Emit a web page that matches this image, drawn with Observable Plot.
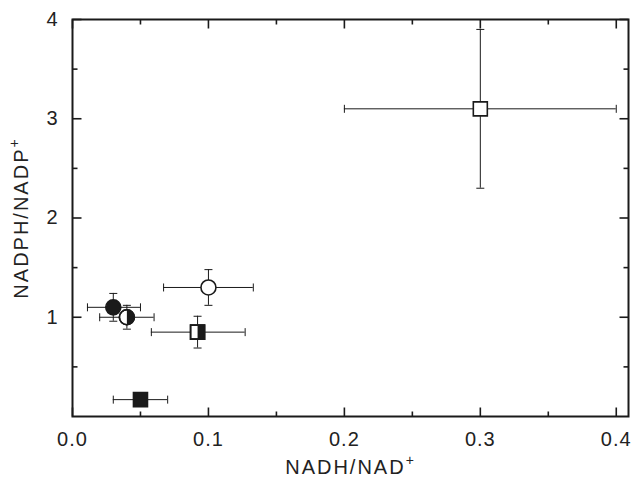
<!DOCTYPE html>
<html>
<head>
<meta charset="utf-8">
<script src="https://cdn.jsdelivr.net/npm/d3@7"></script>
<script src="https://cdn.jsdelivr.net/npm/@observablehq/plot@0.6"></script>
<style>
  html, body { margin: 0; padding: 0; background: #fff; }
  #chart svg { display: block; }
</style>
</head>
<body>
<div id="chart"></div>
<script>
// ---- data ----
const shapes = ["square", "circle", "square", "square", "circle", "circle"];
const fills  = ["open",   "open",   "half",   "filled", "filled", "half"];
const xMean  = [0.300, 0.100, 0.092, 0.050, 0.030, 0.040];
const yMean  = [3.10,  1.30,  0.85,  0.17,  1.10,  1.00];
const xLow   = [0.200, 0.067, 0.058, 0.030, 0.011, 0.020];
const xHigh  = [0.400, 0.133, 0.127, 0.070, 0.050, 0.060];
const yLow   = [2.30,  1.12,  0.69,  0.17,  0.96,  0.88];
const yHigh  = [3.90,  1.48,  1.01,  0.17,  1.24,  1.12];

const xMajor = [0.0, 0.1, 0.2, 0.3, 0.4];
const xMinor = [0.05, 0.15, 0.25, 0.35];
const yMajor = [1, 2, 3, 4];
const yMinor = [0.5, 1.5, 2.5, 3.5];
const xTitle = "NADH/NAD+";
const yTitle = "NADPH/NADP+";

const points = shapes.map((s, i) => ({
  shape: s, fill: fills[i], x: xMean[i], y: yMean[i],
  xl: xLow[i], xh: xHigh[i], yl: yLow[i], yh: yHigh[i]
}));

// ---- custom symbols ----
const symCircle = {draw(c, size) { const r = Math.sqrt(size / Math.PI); c.moveTo(r, 0); c.arc(0, 0, r, 0, 2 * Math.PI); c.closePath(); }};
const symCircleRight = {draw(c, size) { const r = Math.sqrt(size / Math.PI); c.moveTo(0, -r); c.arc(0, 0, r, -Math.PI / 2, Math.PI / 2); c.closePath(); }};
const symSquare = {draw(c, size) { const w = Math.sqrt(size / Math.PI); c.moveTo(-w, -w); c.lineTo(w, -w); c.lineTo(w, w); c.lineTo(-w, w); c.closePath(); }};
const symSquareRight = {draw(c, size) { const w = Math.sqrt(size / Math.PI); c.moveTo(0, -w); c.lineTo(w, -w); c.lineTo(w, w); c.lineTo(0, w); c.closePath(); }};
const capV = {draw(c) { c.moveTo(0, -4); c.lineTo(0, 4); }};
const capH = {draw(c) { c.moveTo(-4, 0); c.lineTo(4, 0); }};
const tickSym = (len, dir) => ({draw(c) {
  c.moveTo(0, 0);
  if (dir === "up") c.lineTo(0, -len);
  else if (dir === "down") c.lineTo(0, len);
  else if (dir === "right") c.lineTo(len, 0);
  else c.lineTo(-len, 0);
}});

const ink = "#1a1a1a";
const circR = 7.5;   // radius px
const sqHalf = 7;    // half side px

function markerMarks(p) {
  const full = p.shape === "circle" ? symCircle : symSquare;
  const half = p.shape === "circle" ? symCircleRight : symSquareRight;
  const r = p.shape === "circle" ? circR : sqHalf;
  const base = {x: "x", y: "y", r, strokeWidth: 1.6};
  const out = [];
  out.push(Plot.dot([p], {...base, symbol: full, fill: p.fill === "filled" ? ink : "white", stroke: ink}));
  if (p.fill === "half") {
    out.push(Plot.dot([p], {...base, symbol: half, fill: ink, stroke: "none"}));
    out.push(Plot.dot([p], {...base, symbol: full, fill: "none", stroke: ink}));
  }
  return out;
}

const withYErr = points.filter(p => p.yh > p.yl);

const chart = Plot.plot({
  width: 631,
  height: 477,
  marginLeft: 72,
  marginRight: 3,
  marginTop: 19,
  marginBottom: 61,
  x: {domain: [0, 0.409], axis: null},
  y: {domain: [0, 4], axis: null},
  style: {fontFamily: "'Liberation Sans', Arial, sans-serif", color: ink, background: "white"},
  marks: [
    // error bars
    Plot.ruleY(points, {y: "y", x1: "xl", x2: "xh", stroke: ink, strokeWidth: 1}),
    Plot.ruleX(withYErr, {x: "x", y1: "yl", y2: "yh", stroke: ink, strokeWidth: 1}),
    Plot.dot(points, {x: "xl", y: "y", symbol: capV, stroke: ink, strokeWidth: 1}),
    Plot.dot(points, {x: "xh", y: "y", symbol: capV, stroke: ink, strokeWidth: 1}),
    Plot.dot(withYErr, {x: "x", y: "yl", symbol: capH, stroke: ink, strokeWidth: 1}),
    Plot.dot(withYErr, {x: "x", y: "yh", symbol: capH, stroke: ink, strokeWidth: 1}),
    // markers
    ...points.flatMap(markerMarks),
    // inward ticks on all four sides
    Plot.dot(xMajor, {x: d => d, frameAnchor: "bottom", symbol: tickSym(9, "up"), stroke: ink, strokeWidth: 1.6}),
    Plot.dot(xMinor, {x: d => d, frameAnchor: "bottom", symbol: tickSym(5, "up"), stroke: ink, strokeWidth: 1.6}),
    Plot.dot(xMajor, {x: d => d, frameAnchor: "top", symbol: tickSym(9, "down"), stroke: ink, strokeWidth: 1.6}),
    Plot.dot(xMinor, {x: d => d, frameAnchor: "top", symbol: tickSym(5, "down"), stroke: ink, strokeWidth: 1.6}),
    Plot.dot(yMajor, {y: d => d, frameAnchor: "left", symbol: tickSym(9, "right"), stroke: ink, strokeWidth: 1.6}),
    Plot.dot(yMinor, {y: d => d, frameAnchor: "left", symbol: tickSym(5, "right"), stroke: ink, strokeWidth: 1.6}),
    Plot.dot(yMajor, {y: d => d, frameAnchor: "right", symbol: tickSym(9, "left"), stroke: ink, strokeWidth: 1.6}),
    Plot.dot(yMinor, {y: d => d, frameAnchor: "right", symbol: tickSym(5, "left"), stroke: ink, strokeWidth: 1.6}),
    Plot.frame({stroke: ink, strokeWidth: 2}),
    // tick labels
    Plot.axisX(xMajor, {anchor: "bottom", tickSize: 0, tickPadding: 15, tickFormat: d3.format(".1f"), label: null, fontSize: 20, fill: "#222"}),
    Plot.axisY(yMajor, {anchor: "left", tickSize: 0, tickPadding: 14, tickFormat: d3.format("d"), label: null, fontSize: 20, fill: "#222"}),
    // axis titles
    Plot.text([xTitle], {text: d => d, frameAnchor: "bottom", dy: 51, fontSize: 20, fill: "#222", lineAnchor: "middle", textAnchor: "middle"}),
    Plot.text([yTitle], {text: d => d, frameAnchor: "left", dx: -51, rotate: -90, fontSize: 20, fill: "#222", lineAnchor: "middle", textAnchor: "middle"})
  ]
});

// superscript "+" in axis titles
d3.select(chart).selectAll("text").filter(function() {
  return this.textContent === xTitle || this.textContent === yTitle;
}).each(function() {
  const t = d3.select(this);
  const s = this.textContent;
  t.text("").attr("letter-spacing", "2px");
  t.append("tspan").text(s.slice(0, -1));
  t.append("tspan").attr("dy", "-0.65em").attr("font-size", "0.7em").text("+");
});
d3.select(chart).selectAll("g[aria-label='x-axis tick label'] text, g[aria-label='y-axis tick label'] text").attr("letter-spacing", "1px");

document.getElementById("chart").appendChild(chart);
</script>
</body>
</html>
